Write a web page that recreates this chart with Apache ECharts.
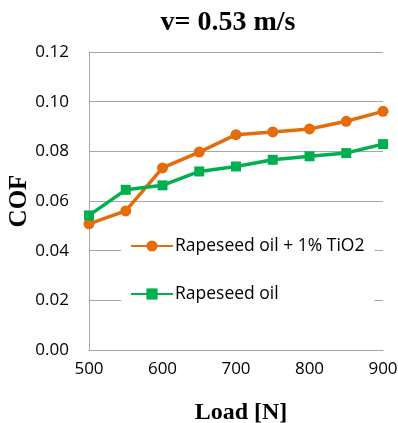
<!DOCTYPE html>
<html><head><meta charset="utf-8">
<script src="https://cdn.jsdelivr.net/npm/echarts@6/dist/echarts.min.js"></script>
<style>html,body{margin:0;padding:0;background:#fff}#c{width:398px;height:423px}</style>
</head><body><div id="c"></div>
<script>
const loads = [500, 550, 600, 650, 700, 750, 800, 850, 900];
const tio2 = [0.0508, 0.0560, 0.0733, 0.0797, 0.0867, 0.0878, 0.0890, 0.0921, 0.0961];
const rapeseed = [0.0542, 0.0645, 0.0663, 0.0719, 0.0739, 0.0766, 0.0780, 0.0793, 0.0829];
const seriesNames = ['Rapeseed oil + 1% TiO2', 'Rapeseed oil'];
const title = 'v= 0.53 m/s';
const xTitle = 'Load [N]';
const yTitle = 'COF';

const chart = echarts.init(document.getElementById('c'));
const pair = (ys) => loads.map((x, i) => [x, ys[i]]);
chart.setOption({
  animation: false,
  title: {text: title, left: 223, top: 4, textAlign: 'center',
    textStyle: {fontFamily: 'Liberation Serif', fontWeight: 'bold', fontSize: 28, color: '#000'}},
  grid: {left: 89, right: 15, top: 52, bottom: 73, containLabel: false, outerBoundsMode: 'none'},
  xAxis: {type: 'value', min: 500, max: 900, interval: 100,
    name: xTitle, nameLocation: 'middle', nameGap: 51, nameMoveOverlap: false,
    nameTextStyle: {fontFamily: 'Liberation Serif', fontWeight: 'bold', fontSize: 24, color: '#000', padding: [0, 0, 0, 10]},
    axisLine: {lineStyle: {color: '#a6a6a6', width: 1}}, axisTick: {show: false},
    axisLabel: {fontFamily: 'Open Sans', fontSize: 17, color: '#000', margin: 11},
    splitLine: {show: false}},
  yAxis: {type: 'value', min: 0, max: 0.12, interval: 0.02,
    name: yTitle, nameLocation: 'middle', nameGap: 57, nameMoveOverlap: false,
    nameTextStyle: {fontFamily: 'Liberation Serif', fontWeight: 'bold', fontSize: 25, color: '#000'},
    axisLine: {show: true, lineStyle: {color: '#a6a6a6', width: 1}}, axisTick: {show: false},
    axisLabel: {fontFamily: 'Open Sans', fontSize: 17, color: '#000', margin: 20, formatter: v => v.toFixed(2)},
    splitLine: {lineStyle: {color: '#a6a6a6', width: 1}}},
  legend: {orient: 'vertical', left: 121, top: 231, backgroundColor: '#fff',
    padding: [6, 10, 6, 9], itemGap: 30, itemWidth: 42, itemHeight: 14,
    textStyle: {fontFamily: 'Open Sans', fontSize: 17.5, color: '#000', padding: [0, 0, 0, -3]},
    data: seriesNames},
  series: [
    {name: seriesNames[0], type: 'line', data: pair(tio2), symbol: 'circle', symbolSize: 11,
     lineStyle: {color: '#e46c0a', width: 3.5}, itemStyle: {color: '#e46c0a'}},
    {name: seriesNames[1], type: 'line', data: pair(rapeseed), symbol: 'rect', symbolSize: 10,
     lineStyle: {color: '#00b050', width: 3.5}, itemStyle: {color: '#00b050'}}
  ]
});
</script></body></html>
